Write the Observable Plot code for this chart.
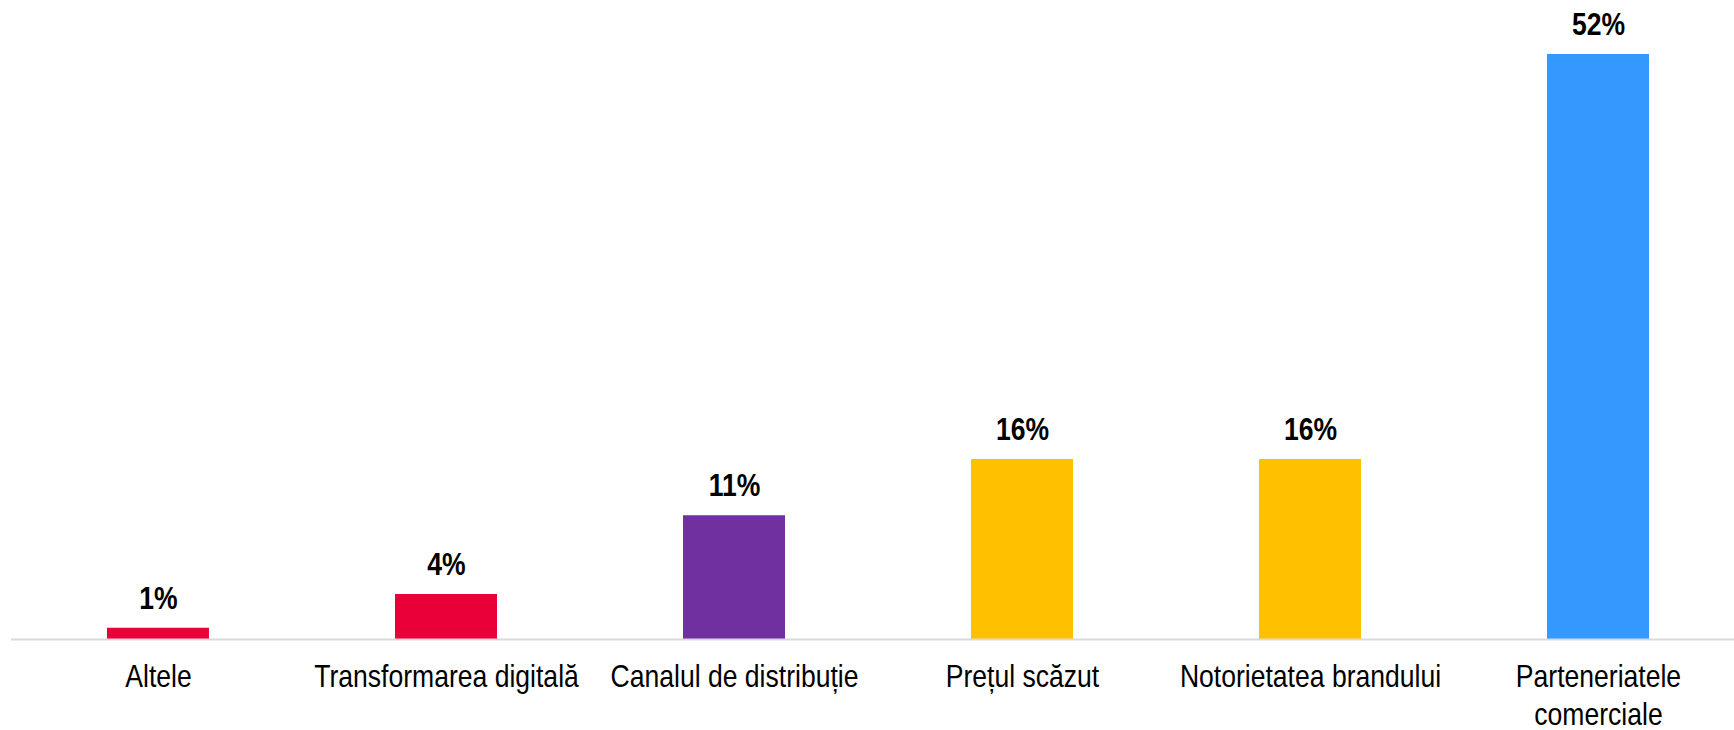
<!DOCTYPE html>
<html>
<head>
<meta charset="utf-8">
<script src="https://cdn.jsdelivr.net/npm/d3@7"></script>
<script src="https://cdn.jsdelivr.net/npm/@observablehq/plot@0.6"></script>
<style>
  html, body { margin: 0; padding: 0; background: #fff; }
  #chart svg { display: block; }
</style>
</head>
<body>
<div id="chart"></div>
<script>
const categories = ["Altele", "Transformarea digitală", "Canalul de distribuție", "Prețul scăzut", "Notorietatea brandului", "Parteneriatele comerciale"];
const tickLabels = ["Altele", "Transformarea digitală", "Canalul de distribuție", "Prețul scăzut", "Notorietatea brandului", "Parteneriatele\ncomerciale"];
const values = [1, 4, 11, 16, 16, 52];
const barColors = ["#EA0039", "#EA0039", "#7030A0", "#FFC000", "#FFC000", "#3399FF"];

const data = categories.map((c, i) => ({category: c, value: values[i], label: tickLabels[i], color: barColors[i]}));
const font = "'Liberation Sans', Arial, sans-serif";

const chart = Plot.plot({
  width: 1734,
  height: 730,
  marginLeft: 11,
  marginRight: 0,
  marginTop: 0,
  marginBottom: 0,
  style: {fontFamily: font, background: "#fff", color: "#000"},
  x: {domain: categories, range: [105, 1651], paddingInner: 0.647, paddingOuter: 0, axis: null},
  y: {domain: [0, 52], range: [639, 54], axis: null},
  marks: [
    Plot.barY(data, {x: "category", y: "value", fill: "color"}),
    Plot.ruleY([0], {stroke: "#d9d9d9", strokeWidth: 2}),
    Plot.text(data, {x: "category", y: "value", text: d => d.value + "%", dy: -30, fontSize: 32, fontWeight: "bold", fill: "#000", className: "narrow"}),
    Plot.text(data, {x: "category", y: 0, text: "label", dy: 21, lineAnchor: "top", lineHeight: 1.17, fontSize: 32, fill: "#000", className: "narrow"})
  ]
});
// Condense the text horizontally (reference uses a narrow sans face)
d3.select(chart).selectAll("g.narrow text").each(function() {
  const t = this.getAttribute("transform") || "";
  this.setAttribute("transform", t + " scale(0.83,1)");
});
document.getElementById("chart").appendChild(chart);
</script>
</body>
</html>
